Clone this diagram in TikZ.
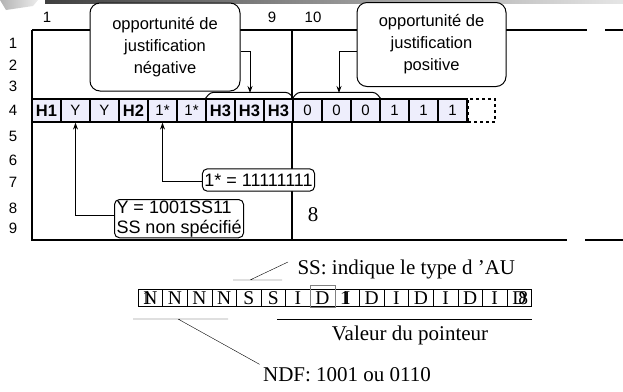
\documentclass[tikz,border=0pt]{standalone}
\usepackage{fontspec}
\setmainfont{Liberation Serif}
\newfontfamily\arialf{Liberation Sans}
\usetikzlibrary{arrows.meta,positioning}
\definecolor{cellfill}{RGB}{238,238,252}
\tikzset{
  cell/.style={draw, fill=cellfill, line width=1.2pt, minimum width=29pt, minimum height=23pt, inner sep=0pt, font=\arialf\fontsize{15}{15}\selectfont},
  bubble/.style={draw, fill=white, rounded corners=10pt, line width=1pt, align=center, font=\arialf\fontsize{16.5}{22}\selectfont},
  note/.style={draw, fill=white, rounded corners=5pt, line width=1pt, font=\arialf\fontsize{18}{20}\selectfont},
  bit/.style={draw, line width=0.5pt, minimum width=24.6pt, minimum height=17pt, inner sep=0pt, font=\fontsize{19.5}{20}\selectfont},
  lbl/.style={font=\arialf\fontsize{15}{15}\selectfont},
  tnr/.style={font=\fontsize{21}{22}\selectfont},
  ptr/.style={-{Stealth[length=7pt,width=5pt]}, line width=1pt}
}

\begin{document}
\begin{tikzpicture}[x=1pt,y=-1pt]
\useasboundingbox (0,0) rectangle (623,391);
\def \cw {29}
\def \bw {24.6}

\shade[left color=black!75, right color=black!10] (45,0) rectangle (623,3.5);
\shade[left color=gray!60, right color=gray!15] (0,0) -- (38,0) -- (33,6) -- (6,10) -- cycle;

\draw[line width=1.2pt] (32,30) -- (32,240) -- (567,240) (585,240) -- (623,240);
\draw[line width=1.2pt] (32,30) -- (587,30) (605,30) -- (623,30);
\draw[line width=1.2pt] (292,30) -- (292,240);

\foreach \r/\y in {1/43,2/65,3/86,4/110,5/136,6/160,7/182,8/208,9/228}
  \node[lbl] (r\r) at (13,\y) {\r};
\node[lbl] (k1) at (47,17) {1};
\node[lbl] (k9) at (272,17) {9};
\node[lbl] (k10) at (313,17) {10};

\foreach \t [count=\i] in {{\bfseries\fontsize{16.5}{16}\selectfont H1},Y,Y,{\bfseries\fontsize{16.5}{16}\selectfont H2},1*,1*,{\bfseries\fontsize{16.5}{16}\selectfont H3},{\bfseries\fontsize{16.5}{16}\selectfont H3},{\bfseries\fontsize{16.5}{16}\selectfont H3},0,0,0,1,1,1}
  \node[cell] (c\i) at ({32+\cw*(\i-0.5)},110.5) {\t};
\node[cell, dashed, fill=none, minimum width=27pt] (c16) at (481.5,110.5) {};

\draw[line width=1pt, rounded corners=3pt] (c7.north west) -- ++(5,-6) -- ([xshift=-5pt,yshift=6pt]c9.north east) -- (c9.north east);
\draw[line width=1pt, rounded corners=3pt] (c10.north west) -- ++(5,-6) -- ([xshift=-5pt,yshift=6pt]c12.north east) -- (c12.north east);
\coordinate (negbr) at (250,93);
\coordinate (posbr) at (339,93);

\node[bubble, minimum width=150pt, minimum height=88pt] (neg) at (165,47) {opportunité de\\justification\\négative};
\node[bubble, minimum width=149pt, minimum height=84pt] (pos) at (431.5,44.5) {opportunité de\\justification\\positive};
\draw[ptr] ([yshift=-4pt]neg.east) -| (negbr);
\draw[ptr] ([yshift=-7pt]pos.west) -| (posbr);

\node[note, inner xsep=2pt, inner ysep=5pt] (obox) at (258.5,180) {1* = 11111111};
\node[note, anchor=north west, align=left, inner xsep=2pt, inner ysep=1pt] (ybox) at (114,199) {Y = 1001SS11\\SS non spécifié};
\draw[ptr] ([yshift=-1.5pt]obox.west) -| (c5.south);
\draw[ptr] ([yshift=3pt]ybox.west) -| (c2.south);
\node[tnr] (eight) at (313,215) {8};

\foreach \t [count=\i] in {N,N,N,N,S,S,I,D,I,D,I,D,I,D,I,D}
  \node[bit] (b\i) at ({138+\bw*(\i-0.5)},298) {\t};
\draw[gray, line width=0.5pt] ([yshift=4pt]b8.north west) rectangle (b8.south east);
\node[bit, draw=none, fill=none] (n1) at ([xshift=-3pt]b1.center) {1};
\node[bit, draw=none, fill=none] (n9) at ([xshift=-2pt]b9.center) {1};
\node[bit, draw=none, fill=none] (n16) at ([xshift=4pt]b16.center) {8};

\node[tnr, anchor=west] (ss) at (294,269) {SS: indique le type d 'AU};
\coordinate (ssa) at (233,280);
\coordinate (ssb) at (282,280);
\coordinate (ssc) at (250,280);
\draw[thin] (ssa) -- (ssb) (ssc) -- ([xshift=-6pt,yshift=7pt]ss.west);

\coordinate (va) at (277,319);
\coordinate (vb) at (532,319);
\draw[thin] (va) -- (vb);
\node[tnr] (val) at (410,335) {Valeur du pointeur};

\node[tnr] (ndf) at (347,375) {NDF: 1001 ou 0110};
\coordinate (ndfa) at (133,319);
\coordinate (ndfb) at (228,319);
\coordinate (ndfc) at (178,319);
\draw[thin] (ndfa) -- (ndfb) (ndfc) -- (ndf.north west);
\end{tikzpicture}
\end{document}
